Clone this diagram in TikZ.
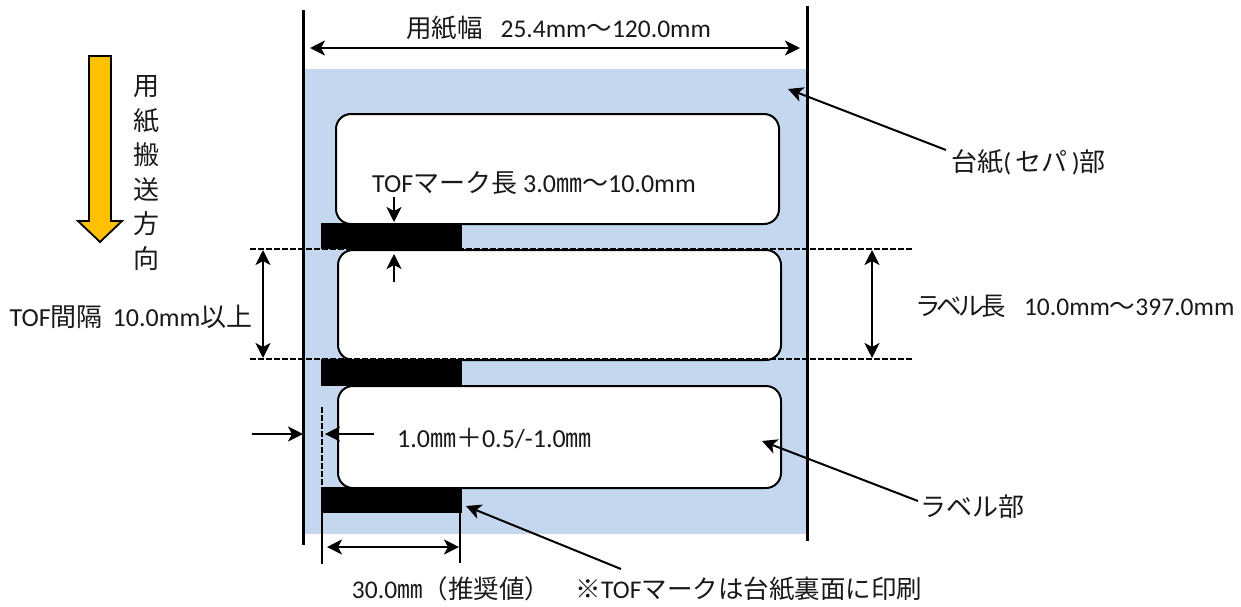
\documentclass[tikz,border=0pt]{standalone}
\usepackage{fontspec}
\setmainfont{Carlito}
\newfontfamily\jp{Noto Sans CJK JP}
\newfontfamily\jpp[RawFeature=+palt]{Noto Sans CJK JP}
\usetikzlibrary{arrows.meta}

\begin{document}
\begin{tikzpicture}[x=1pt,y=-1pt]
\edef\sizetip{15pt}
\tikzset{
    sheet/.style={fill=sheetblue,draw=none},
    labelbox/.style={draw,fill=white,line width=2pt,rounded corners=15pt,anchor=north west,minimum width=443pt,inner sep=0pt},
    tofmark/.style={fill=black,draw=none,anchor=north west,minimum width=141pt,inner sep=0pt},
    edgeline/.style={line width=3pt},
    thinline/.style={line width=2pt},
    cutline/.style={line width=1.6pt,dash pattern=on 5.5pt off 2.5pt},
    dimarrow/.style={line width=2.6pt,{Stealth[length=\sizetip,width=\sizetip,inset=4pt]}-{Stealth[length=\sizetip,width=\sizetip,inset=4pt]}},
    pointer/.style={line width=2pt,-{Stealth[length=\sizetip,width=\sizetip,inset=4pt]}},
    txt/.style={font=\fontsize{26}{30}\selectfont,inner sep=0pt,text=black!90},
    txtsmall/.style={txt,font=\fontsize{25.5}{30}\selectfont},
}
\definecolor{sheetblue}{HTML}{C5D7EF}
\definecolor{feedyellow}{HTML}{FFC000}
\useasboundingbox (0,0) rectangle (1241,606);

%% Backing sheet, labels and marks
\node [sheet,anchor=north west,minimum width=503pt,minimum height=465pt,inner sep=0pt] (backing) at (304,69) {};
\node [labelbox,minimum height=110pt] (label1) at (335,113) {};
\node [labelbox,minimum height=110pt] (label2) at (337,249) {};
\node [labelbox,minimum height=102pt] (label3) at (337,385) {};
\node [tofmark,minimum height=26pt] (mark1) at (321,223) {};
\node [tofmark,minimum height=27pt] (mark2) at (321,359) {};
\node [tofmark,minimum height=26pt] (mark3) at (321,487) {};

%% Feed direction
\draw [line width=1.8pt,fill=feedyellow] (89,56) -- (111,56) -- (111,221) -- (122,221) -- (100,242) -- (78,221) -- (89,221) -- cycle;
\node [txt,align=center,font=\fontsize{26}{34.5}\selectfont\jp] (feedtxt) at (146,173) {用\\紙\\搬\\送\\方\\向};

%% Sheet edges
\coordinate (edgeLtop) at (303,10);
\coordinate (edgeLbot) at (303,545);
\coordinate (edgeRtop) at (807,6);
\coordinate (edgeRbot) at (807,541);
\draw [edgeline] (edgeLtop) -- (edgeLbot);
\draw [edgeline] (edgeRtop) -- (edgeRbot);

%% Dashed guides
\coordinate (cutAl) at (250,249);
\coordinate (cutAr) at (912,249);
\coordinate (cutBl) at (250,359);
\coordinate (cutBr) at (912,359);
\coordinate (cutCt) at (322,407);
\coordinate (cutCb) at (322,487);
\draw [cutline] (cutAl) -- (cutAr);
\draw [cutline] (cutBl) -- (cutBr);
\draw [cutline] (cutCt) -- (cutCb);

%% Texts
\node [txtsmall] (widthtxt) at (558.5,28) {{\jp 用紙幅}\hspace{18pt}25.4mm{\jp ～}120.0mm};
\node [txt] (marklentxt) at (534,183) {TOF{\jp マーク長} 3.0{\jp ㎜～}10.0mm};
\node [txt] (backtxt) at (1028.5,162) {{\jp 台紙}(\,{\jp セパ}\,){\jp 部}};
\node [txtsmall] (labellentxt) at (1076,306) {{\jpp ラ\kern-3pt ベ\kern-3pt ル\kern-3pt 長}\hspace{18pt}10.0mm{\jp ～}397.0mm};
\node [txt] (pitchtxt) at (131,317) {TOF{\jp 間隔}\hspace{10pt}10.0mm{\jp 以上}};
\node [txt] (offsettxt) at (494.5,438) {1.0{\jp ㎜＋}0.5/-1.0{\jp ㎜}};
\node [txt] (labeltxt) at (972.5,507) {\jp ラベル部};
\node [txtsmall] (recomtxt) at (637,589) {30.0{\jp ㎜（推奨値）　※}TOF{\jp マークは台紙裏面に印刷}};

%% Dimensions
\coordinate (widthL) at (310,48);
\coordinate (widthR) at (800,48);
\coordinate (pitchT) at (263,250);
\coordinate (pitchB) at (263,358);
\coordinate (lenT) at (872,250);
\coordinate (lenB) at (872,358);
\coordinate (markL) at (327,547);
\coordinate (markR) at (459,547);
\draw [dimarrow] (widthL) -- (widthR);
\draw [dimarrow] (pitchT) -- (pitchB);
\draw [dimarrow] (lenT) -- (lenB);
\draw [dimarrow] (markL) -- (markR);

%% Mark width ticks
\coordinate (tickAt) at (322,513);
\coordinate (tickAb) at (322,564);
\coordinate (tickBt) at (460,513);
\coordinate (tickBb) at (460,563);
\draw [thinline] (tickAt) -- (tickAb);
\draw [thinline] (tickBt) -- (tickBb);

%% Small arrows
\coordinate (downS) at (394,197);
\coordinate (downE) at (394,222);
\coordinate (upS) at (394,282);
\coordinate (upE) at (394,254);
\coordinate (inLs) at (252,434);
\coordinate (inLe) at (303,434);
\coordinate (inRs) at (374,434);
\coordinate (inRe) at (325,434);
\draw [pointer] (downS) -- (downE);
\draw [pointer] (upS) -- (upE);
\draw [pointer] (inLs) -- (inLe);
\draw [pointer] (inRs) -- (inRe);

%% Callouts
\coordinate (backS) at (946,150);
\coordinate (backE) at (788,89);
\coordinate (labelS) at (918,501);
\coordinate (labelE) at (762,441);
\coordinate (markS) at (621,569);
\coordinate (markE) at (466,506);
\draw [pointer] (backS) -- (backE);
\draw [pointer] (labelS) -- (labelE);
\draw [pointer] (markS) -- (markE);
\end{tikzpicture}
\end{document}
